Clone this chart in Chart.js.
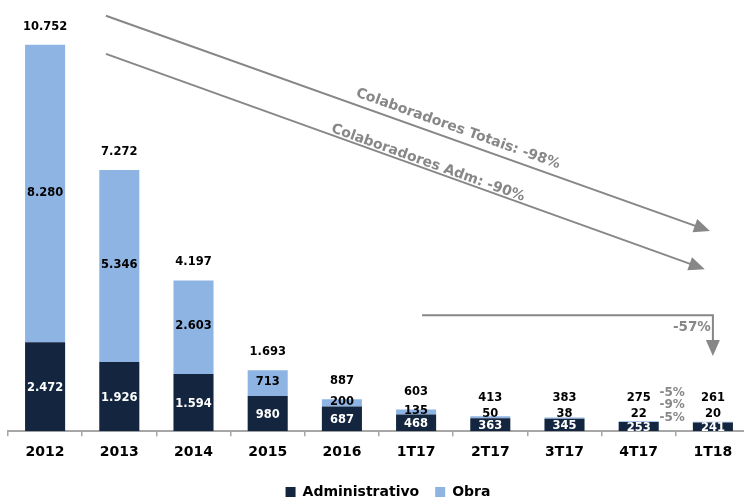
<!DOCTYPE html>
<html>
<head>
<meta charset="utf-8">
<script src="https://cdn.jsdelivr.net/npm/chart.js@4/dist/chart.umd.min.js"></script>
<style>
    html, body { margin: 0; padding: 0; background: #fff; overflow: hidden; }
    .chart-wrap { width: 752px; height: 498px; }
</style>
</head>
<body>
<div class="chart-wrap"><canvas id="staffChart" width="752" height="498"></canvas></div>
<script>
// Chart data
const categories = ['2012', '2013', '2014', '2015', '2016', '1T17', '2T17', '3T17', '4T17', '1T18'];
const administrativo = [2472, 1926, 1594, 980, 687, 468, 363, 345, 253, 241];
const obra = [8280, 5346, 2603, 713, 200, 135, 50, 38, 22, 20];
const totals = [10752, 7272, 4197, 1693, 887, 603, 413, 383, 275, 261];
const trendLabels = ['Colaboradores Totais: -98%', 'Colaboradores Adm: -90%'];
const changeLabel = '-57%';
const quarterChanges = ['-5%', '-9%', '-5%'];

const FONT = '"DejaVu Sans", Verdana, sans-serif';
const GREY = '#878787';

// 10752 -> "10.752"
function fmt(n) {
    return String(n).replace(/\B(?=(\d{3})+(?!\d))/g, '.');
}

// Values inside and on top of the bars
const valueLabels = {
    id: 'valueLabels',
    afterDatasetsDraw(chart) {
        const ctx = chart.ctx;
        const admMeta = chart.getDatasetMeta(0);
        const obraMeta = chart.getDatasetMeta(1);
        const axisY = chart.scales.y.getPixelForValue(0);
        ctx.save();
        ctx.font = 'bold 11.5px ' + FONT;
        ctx.textAlign = 'center';
        ctx.textBaseline = 'middle';
        admMeta.data.forEach((bar, i) => {
            const obraBar = obraMeta.data[i];
            ctx.fillStyle = '#ffffff';
            ctx.fillText(fmt(administrativo[i]), bar.x, (bar.y + bar.base) / 2 + 1);
            const obraY = Math.min((obraBar.y + obraBar.base) / 2 - 1, axisY - 17);
            ctx.fillStyle = '#000000';
            ctx.fillText(fmt(obra[i]), bar.x, obraY);
            const totalY = Math.min(obraBar.y - 18, obraY - 16);
            ctx.fillText(fmt(totals[i]), bar.x, totalY);
        });
        ctx.restore();
    }
};

function arrowHead(ctx, from, to) {
    const a = Math.atan2(to.y - from.y, to.x - from.x);
    const len = 16, half = 7;
    ctx.beginPath();
    ctx.moveTo(to.x, to.y);
    ctx.lineTo(to.x - len * Math.cos(a) + half * Math.sin(a), to.y - len * Math.sin(a) - half * Math.cos(a));
    ctx.lineTo(to.x - len * Math.cos(a) - half * Math.sin(a), to.y - len * Math.sin(a) + half * Math.cos(a));
    ctx.closePath();
    ctx.fill();
}

function arrow(ctx, pts) {
    const last = pts[pts.length - 1], prev = pts[pts.length - 2];
    const a = Math.atan2(last.y - prev.y, last.x - prev.x);
    ctx.beginPath();
    ctx.moveTo(pts[0].x, pts[0].y);
    for (let k = 1; k < pts.length - 1; k++) ctx.lineTo(pts[k].x, pts[k].y);
    ctx.lineTo(last.x - 14 * Math.cos(a), last.y - 14 * Math.sin(a));
    ctx.stroke();
    arrowHead(ctx, prev, last);
}

// Trend arrows and percentage notes, anchored to the scales
const trendArrows = {
    id: 'trendArrows',
    afterDraw(chart) {
        const ctx = chart.ctx;
        const xs = chart.scales.x, ys = chart.scales.y;
        const p = (i, v) => ({ x: xs.getPixelForValue(i), y: ys.getPixelForValue(v) });
        ctx.save();
        ctx.strokeStyle = GREY;
        ctx.fillStyle = GREY;
        ctx.lineWidth = 2;

        const a1 = [p(0.82, 11560), p(8.96, 5570)];
        const a2 = [p(0.82, 10500), p(8.89, 4510)];
        arrow(ctx, a1);
        arrow(ctx, a2);
        arrow(ctx, [p(5.08, 3230), p(9.0, 3230), p(9.0, 2090)]);

        ctx.textAlign = 'center';
        ctx.textBaseline = 'middle';
        ctx.font = 'bold 14px ' + FONT;
        [[a1, p(5.565, 8412)], [a2, p(5.16, 7465)]].forEach(([line, c], k) => {
            const ang = Math.atan2(line[1].y - line[0].y, line[1].x - line[0].x);
            ctx.save();
            ctx.translate(c.x, c.y);
            ctx.rotate(ang);
            ctx.fillText(trendLabels[k], 0, 0);
            ctx.restore();
        });

        ctx.textAlign = 'right';
        ctx.font = 'bold 13.5px ' + FONT;
        const c57 = p(9.0, 2897);
        ctx.fillText(changeLabel, c57.x - 2, c57.y);

        ctx.textAlign = 'center';
        ctx.font = 'bold 12px ' + FONT;
        [1058, 724, 362].forEach((v, k) => {
            const c = p(8.45, v);
            ctx.fillText(quarterChanges[k], c.x, c.y);
        });
        ctx.restore();
    }
};

// Nudge the legend a little to the right, as in the original
const legendNudge = {
    id: 'legendNudge',
    afterLayout(chart) {
        chart.legend.left += 9;
        chart.legend.right += 9;
    }
};

document.addEventListener('DOMContentLoaded', function() {
    Chart.defaults.font.family = FONT;
    const ctx = document.getElementById('staffChart').getContext('2d');
    new Chart(ctx, {
        type: 'bar',
        data: {
            labels: categories,
            datasets: [{
                label: 'Administrativo',
                data: administrativo,
                backgroundColor: '#13253f'
            }, {
                label: 'Obra',
                data: obra,
                backgroundColor: '#8eb4e3'
            }]
        },
        options: {
            responsive: false,
            animation: false,
            categoryPercentage: 0.54,
            barPercentage: 1,
            layout: { padding: { left: 8, right: 2, top: 0, bottom: -11 } },
            scales: {
                x: {
                    stacked: true,
                    afterFit(scale) { scale.paddingLeft = 0; },
                    grid: { display: true, drawOnChartArea: false, drawTicks: true, tickLength: 5, color: '#a6a6a6', lineWidth: 1.5 },
                    border: { display: true, color: '#a6a6a6', width: 2 },
                    ticks: { color: '#000', padding: 8, font: { size: 14, weight: 'bold' } }
                },
                y: {
                    stacked: true,
                    display: false,
                    min: 0,
                    max: 12000
                }
            },
            plugins: {
                legend: {
                    position: 'bottom',
                    labels: { boxWidth: 10, boxHeight: 10, padding: 16, color: '#000', font: { size: 14, weight: 'bold' } }
                },
                tooltip: { enabled: false }
            }
        },
        plugins: [valueLabels, trendArrows, legendNudge]
    });
});
</script>
</body>
</html>
